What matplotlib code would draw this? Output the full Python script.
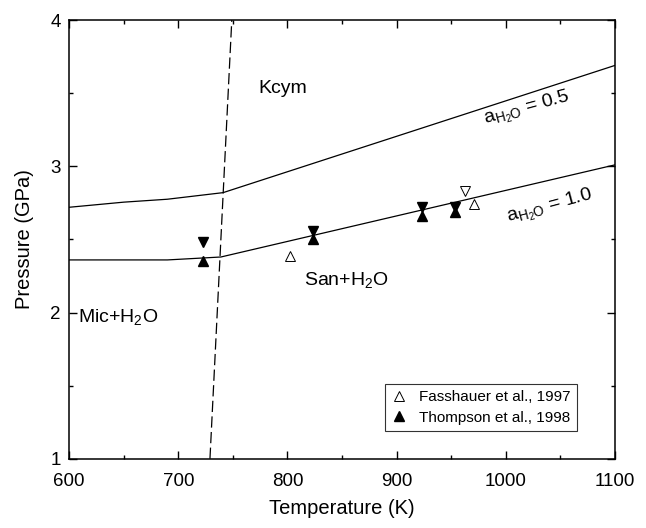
import matplotlib
matplotlib.use("Agg")
import matplotlib.pyplot as plt
from matplotlib.ticker import MultipleLocator

plt.rcParams["font.family"] = ["Liberation Sans", "DejaVu Sans"]
plt.rcParams["mathtext.fontset"] = "custom"
plt.rcParams["mathtext.rm"] = "Liberation Sans"
plt.rcParams["mathtext.it"] = "Liberation Sans"

# phase boundaries (T in K, P in GPa)
t_half = [600, 650, 690, 741, 1100]
p_half = [2.72, 2.755, 2.775, 2.82, 3.69]
t_one = [600, 690, 739, 1100]
p_one = [2.36, 2.36, 2.38, 3.01]
t_mic = [729, 749]
p_mic = [1.0, 4.0]

# Fasshauer et al., 1997 (open)
fas_up_t = [802, 971]
fas_up_p = [2.39, 2.74]
fas_dn_t = [963]
fas_dn_p = [2.83]

# Thompson et al., 1998 (filled)
thm_up_t = [723, 823, 923, 953]
thm_up_p = [2.35, 2.50, 2.66, 2.69]
thm_dn_t = [723, 823, 923, 953]
thm_dn_p = [2.48, 2.56, 2.72, 2.72]

fig = plt.figure(figsize=(6.46, 5.28), dpi=100)
ax = fig.add_axes([0.107, 0.131, 0.845, 0.831])

ax.plot(t_half, p_half, color="black", lw=0.9)
ax.plot(t_one, p_one, color="black", lw=0.9)
ax.plot(t_mic, p_mic, color="black", lw=0.9, dashes=(9, 3.5))

ms = 6.5
ax.plot(fas_up_t, fas_up_p, "^", ms=ms, mfc="white", mec="black", mew=0.7,
        ls="none", label="Fasshauer et al., 1997")
ax.plot(fas_dn_t, fas_dn_p, "v", ms=ms, mfc="white", mec="black", mew=0.7,
        ls="none")
ax.plot(thm_up_t, thm_up_p, "^", ms=ms, color="black", ls="none",
        label="Thompson et al., 1998")
ax.plot(thm_dn_t, thm_dn_p, "v", ms=ms, color="black", ls="none")

ax.text(796, 3.53, "Kcym", fontsize=14, ha="center", va="center")
ax.text(854, 2.225, r"San+H$_2$O", fontsize=14, ha="center", va="center")
ax.text(608, 1.97, r"Mic+H$_2$O", fontsize=14, ha="left", va="center")
ax.text(1019, 3.39, r"$\mathrm{a}_{\mathrm{H_2O}}$ = 0.5", fontsize=14,
        ha="center", va="center", rotation=15)
ax.text(1040, 2.72, r"$\mathrm{a}_{\mathrm{H_2O}}$ = 1.0", fontsize=14,
        ha="center", va="center", rotation=15)

ax.set_xlim(600, 1100)
ax.set_ylim(1, 4)
ax.xaxis.set_major_locator(MultipleLocator(100))
ax.xaxis.set_minor_locator(MultipleLocator(50))
ax.yaxis.set_major_locator(MultipleLocator(1))
ax.yaxis.set_minor_locator(MultipleLocator(0.5))
ax.tick_params(which="both", direction="in", top=True, right=True,
               labelsize=13.5, width=1.0)
ax.tick_params(which="major", length=6)
ax.tick_params(which="minor", length=3)
ax.tick_params(axis="x", pad=10)
ax.tick_params(axis="y", pad=6)
for s in ax.spines.values():
    s.set_linewidth(1.1)

ax.set_xlabel("Temperature (K)", fontsize=14.5, labelpad=7)
ax.set_ylabel("Pressure (GPa)", fontsize=14.5, labelpad=12)

leg = ax.legend(loc="lower right", bbox_to_anchor=(0.945, 0.045), fontsize=11,
                frameon=True, fancybox=False, edgecolor="black",
                handlelength=1.0, handletextpad=0.8, borderpad=0.45,
                labelspacing=0.4)
leg.get_frame().set_linewidth(0.8)

fig.savefig("out.png", dpi=100)
